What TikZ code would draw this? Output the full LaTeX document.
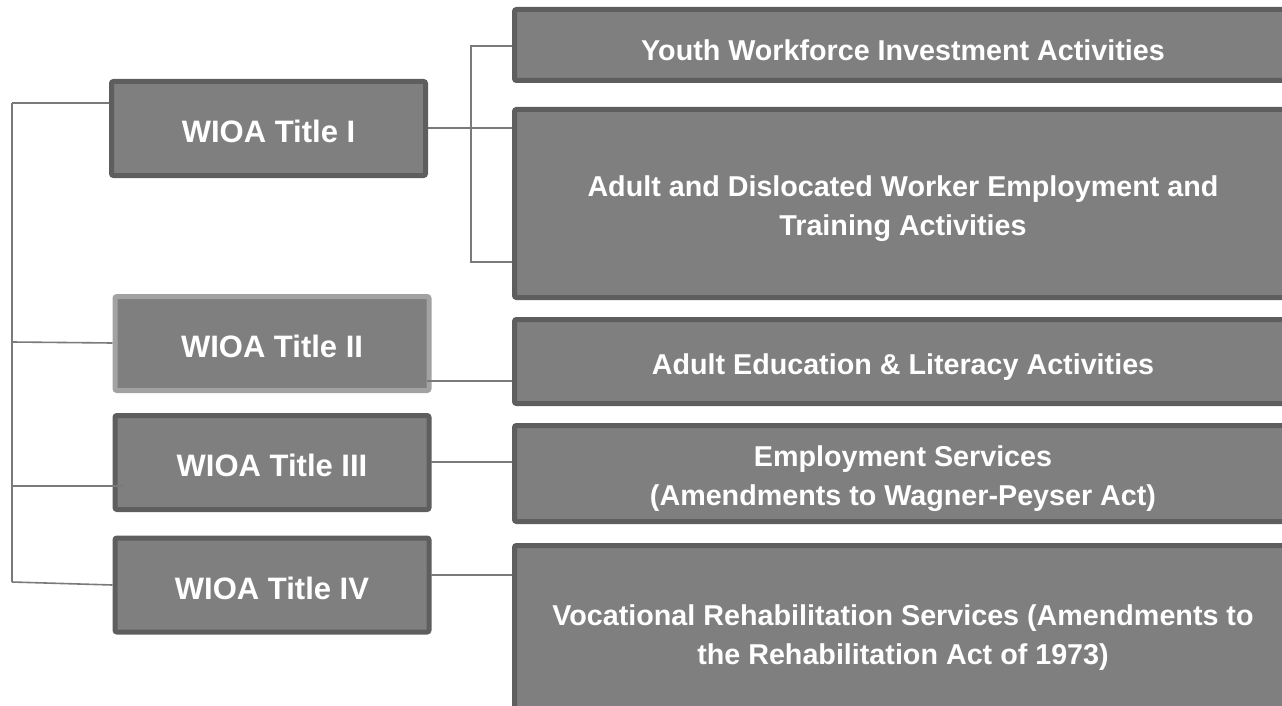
\documentclass[tikz,border=0pt]{standalone}
\usepackage{fontspec}
\setmainfont{Liberation Sans}
\usetikzlibrary{calc}
\begin{document}
\begin{tikzpicture}[x=1pt,y=-1pt]
\definecolor{boxfill}{HTML}{7F7F7F}
\definecolor{boxline}{HTML}{5E5E5E}
\definecolor{boxlight}{HTML}{A2A2A2}
\definecolor{conn}{HTML}{7A7A7A}
\tikzset{
  titlebox/.style={draw=boxline, fill=boxfill, line width=5pt, rounded corners=2pt,
    minimum width=314pt, minimum height=94pt, inner sep=0pt},
  titletext/.style={text=white, inner sep=0pt, yshift=-3pt,
    font=\bfseries\fontsize{31}{36}\selectfont, align=center},
  actbox/.style={draw=boxline, fill=boxfill, line width=5pt, rounded corners=2pt,
    minimum width=777pt, inner sep=0pt},
  acttext/.style={text=white, inner sep=0pt, yshift=-5.5pt,
    font=\bfseries\fontsize{28.7}{39}\selectfont, align=center},
  link/.style={draw=conn, line width=1.6pt}
}
\useasboundingbox (0,0) rectangle (1282,706);
\begin{scope}
\clip (0,0) rectangle (1282,706);
% left title boxes
\node[titlebox, label={[titletext]center:WIOA Title I}] (t1) at (268.5,128.5) {};
\node[titlebox, draw=boxlight, label={[titletext]center:WIOA Title II}] (t2) at (272,343.5) {};
\node[titlebox, label={[titletext]center:WIOA Title III}] (t3) at (272,462.5) {};
\node[titlebox, label={[titletext]center:WIOA Title IV}] (t4) at (272,585) {};
% right activity boxes
\node[actbox, minimum height=71pt,
  label={[acttext]center:Youth Workforce Investment Activities}] (r1) at (903,45) {};
\node[actbox, minimum height=188pt,
  label={[acttext]center:{Adult and Dislocated Worker Employment and\\Training Activities}}] (r2) at (903,203.5) {};
\node[actbox, minimum height=84pt,
  label={[acttext]center:{Adult Education \& Literacy Activities}}] (r3) at (903,361.5) {};
\node[actbox, minimum height=96pt,
  label={[acttext]center:{Employment Services\\(Amendments to Wagner-Peyser Act)}}] (r4) at (903,473.5) {};
\node[actbox, minimum height=173pt,
  label={[acttext]center:{Vocational Rehabilitation Services (Amendments to\\the Rehabilitation Act of 1973)}}] (r5) at (903,632) {};
% left trunk
\coordinate (j1) at (12,103);
\coordinate (j2) at (12,342);
\coordinate (j3) at (12,486);
\coordinate (j4) at (12,582);
\draw[link] (j1) -- (j4);
\draw[link] (j1) -- (j1 -| t1.west);
\draw[link] (j2) -- ($(t2.west)+(0,-0.5)$);
\draw[link] (j3) -- ++(111,0);
\draw[link] (j4) -- (t4.west);
% right connectors
\coordinate (c1) at (428,128);
\draw[link] (c1) -- (c1 -| r2.west);
\coordinate (b1) at (471,46);
\coordinate (b2) at (471,262);
\draw[link] (b1 -| r1.west) -- (b1) -- (b2) -- (b2 -| r2.west);
\coordinate (c2) at (427,381);
\draw[link] (c2) -- (c2 -| r3.west);
\coordinate (c3) at (431,462);
\draw[link] (c3) -- (c3 -| r4.west);
\coordinate (c4) at (431,575);
\draw[link] (c4) -- (c4 -| r5.west);
\end{scope}
\end{tikzpicture}
\end{document}
